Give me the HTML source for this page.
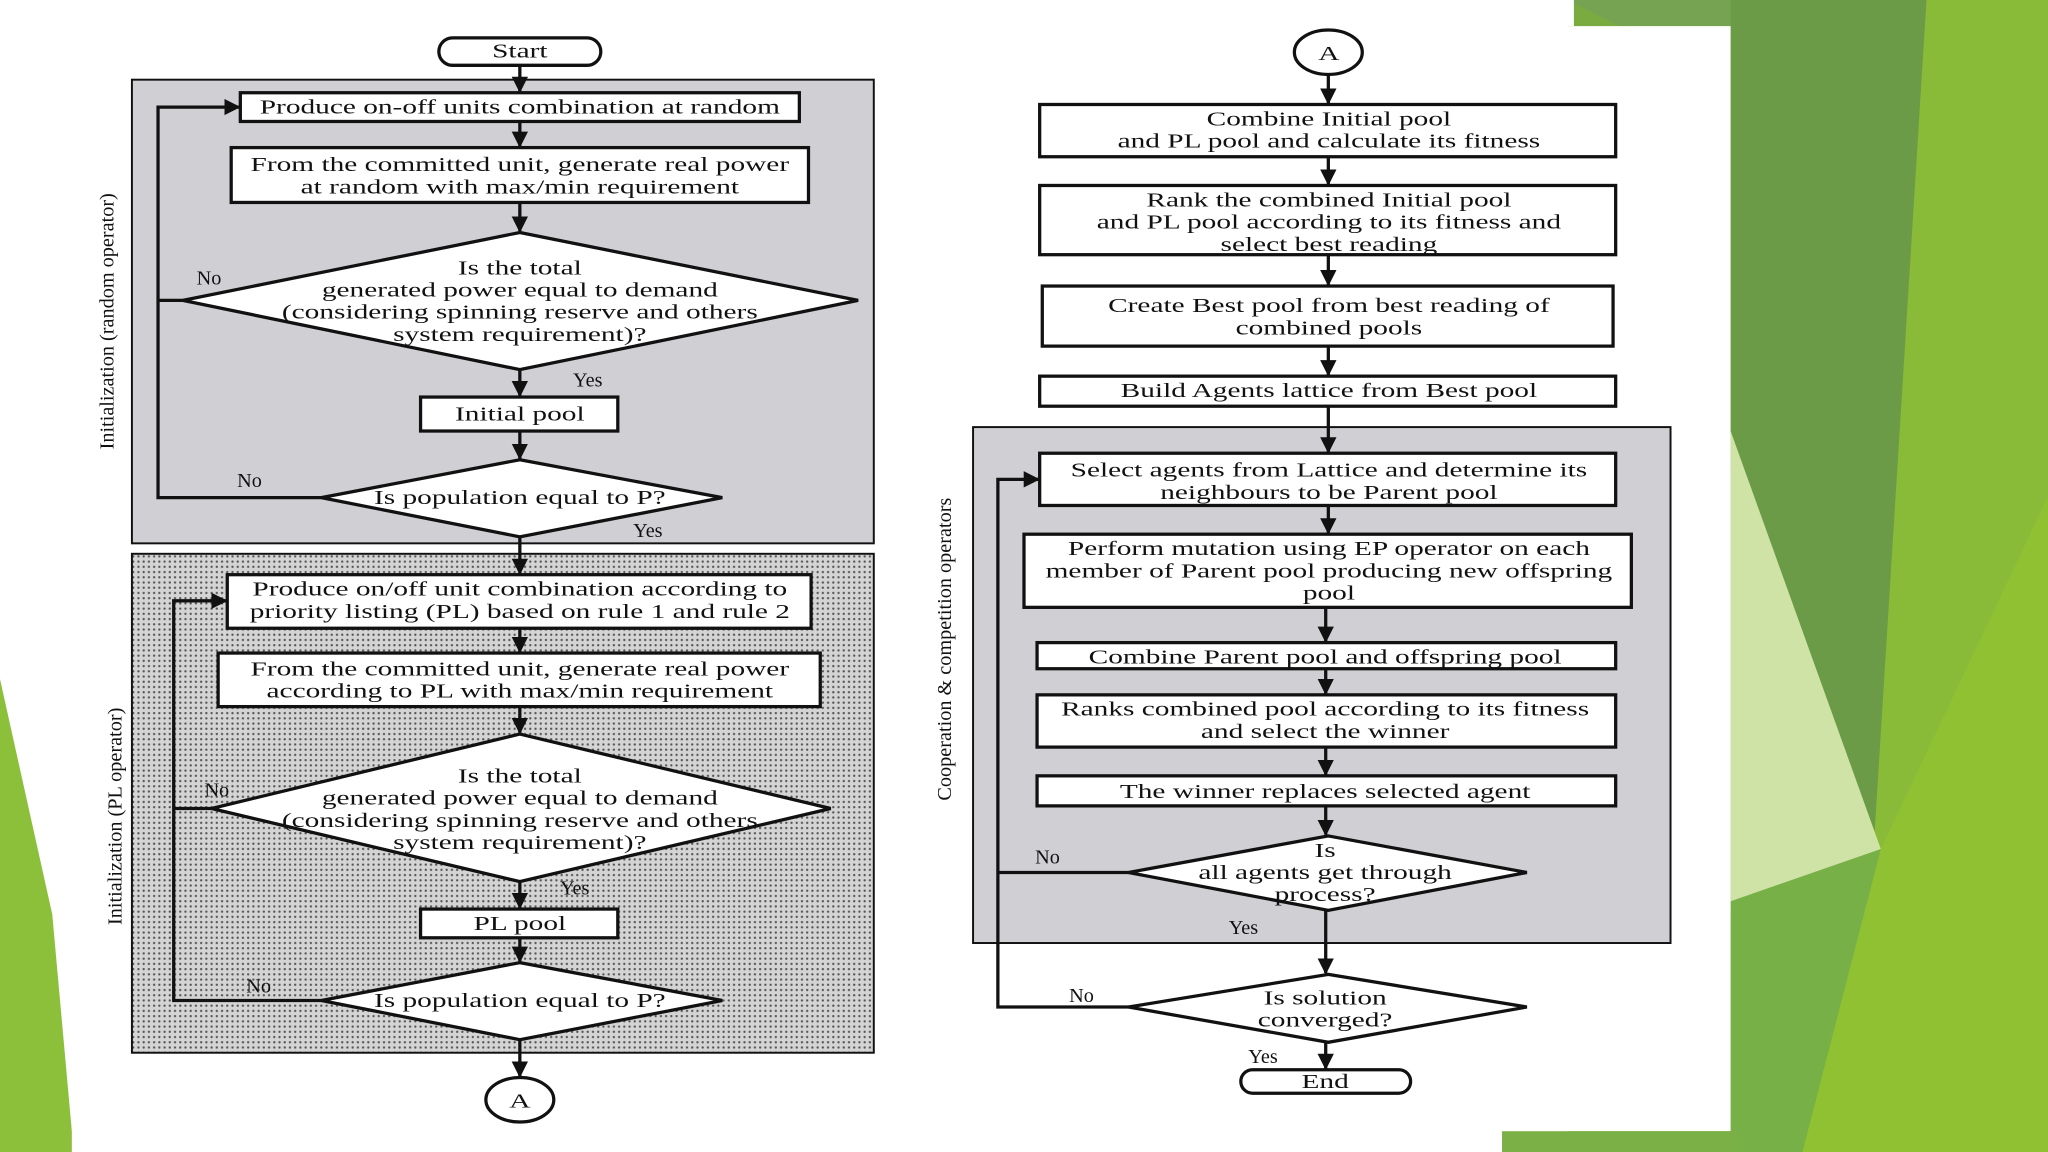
<!DOCTYPE html>
<html><head><meta charset="utf-8"><style>
html,body{margin:0;padding:0;background:#fff;}
svg{display:block}
text{font-family:"Liberation Serif",serif;font-size:15.5px;fill:#111;}
</style></head><body>
<svg width="2048" height="1152" viewBox="0 0 1568 882" preserveAspectRatio="none" xmlns="http://www.w3.org/2000/svg">
<defs>
<pattern id="dots" width="4" height="4" patternUnits="userSpaceOnUse">
<rect width="4" height="4" fill="#d4d4d4"/><circle cx="2" cy="2" r="0.9" fill="#555"/>
</pattern>
<marker id="ar" viewBox="0 0 10 10" refX="9" refY="5" markerWidth="5" markerHeight="5" orient="auto"><path d="M0,0L10,5L0,10z" fill="#111"/></marker>
</defs>
<rect width="1568" height="882" fill="#fff"/>
<rect x="1200" y="0" width="368" height="882" fill="#7aab40"/>
<polygon points="1200,0 1330,0 1330,20 1240,20" fill="#76a352"/>
<polygon points="1325,0 1475,0 1440,650 1325,520" fill="#6b9b46"/>
<polygon points="1475,0 1568,0 1568,882 1420,882" fill="#8abb38"/>
<polygon points="1325,330 1440,650 1325,700" fill="#cfe3a6"/>
<polygon points="1440,650 1568,380 1568,882 1330,882" fill="#8fc132"/>
<polygon points="1325,690 1440,650 1380,882 1325,882" fill="#78b048"/>
<polygon points="1150,866 1330,866 1330,882 1150,882" fill="#7ab046"/>
<polygon points="0,520 40,700 55,866 55,882 0,882" fill="#8cc03a"/>
<rect x="55" y="20" width="1270" height="846" fill="#fff"/>
<rect x="55" y="0" width="1150" height="20" fill="#fff"/>

<g stroke="#111" stroke-width="2.5" fill="none">
<rect x="101" y="61" width="568" height="355" fill="#d0d0d4" stroke-width="1.5"/>
<rect x="101" y="424" width="568" height="382" fill="url(#dots)" stroke-width="1.5"/>
<rect x="745" y="327" width="534" height="395" fill="#d0d0d4" stroke-width="1.5"/>

<rect x="336" y="29" width="124" height="21" rx="10.5" fill="#fff"/>
<rect x="184" y="71" width="428" height="22" fill="#fff"/>
<rect x="177" y="113" width="442" height="42" fill="#fff"/>
<polygon points="398,178 657,230 398,283 140,230" fill="#fff"/>
<rect x="322" y="304" width="151" height="26" fill="#fff"/>
<polygon points="398,352 553,381 398,411 246,381" fill="#fff"/>
<rect x="174" y="440" width="447" height="41" fill="#fff"/>
<rect x="167" y="500" width="461" height="41" fill="#fff"/>
<polygon points="398,562 636,619 398,675 162,619" fill="#fff"/>
<rect x="322" y="696" width="151" height="22" fill="#fff"/>
<polygon points="398,737 553,766 398,796 246,766" fill="#fff"/>
<ellipse cx="398" cy="842" rx="26" ry="17" fill="#fff"/>

<line x1="398" y1="50" x2="398" y2="70" marker-end="url(#ar)"/>
<line x1="398" y1="93" x2="398" y2="112" marker-end="url(#ar)"/>
<line x1="398" y1="155" x2="398" y2="177" marker-end="url(#ar)"/>
<line x1="398" y1="283" x2="398" y2="303" marker-end="url(#ar)"/>
<line x1="398" y1="330" x2="398" y2="351" marker-end="url(#ar)"/>
<line x1="398" y1="411" x2="398" y2="439" marker-end="url(#ar)"/>
<line x1="398" y1="481" x2="398" y2="499" marker-end="url(#ar)"/>
<line x1="398" y1="541" x2="398" y2="561" marker-end="url(#ar)"/>
<line x1="398" y1="675" x2="398" y2="695" marker-end="url(#ar)"/>
<line x1="398" y1="718" x2="398" y2="736" marker-end="url(#ar)"/>
<line x1="398" y1="796" x2="398" y2="824" marker-end="url(#ar)"/>
<polyline points="246,381 121,381 121,82 183,82" marker-end="url(#ar)"/>
<line x1="140" y1="230" x2="121" y2="230"/>
<polyline points="246,766 133,766 133,460 173,460" marker-end="url(#ar)"/>
<line x1="162" y1="619" x2="133" y2="619"/>

<ellipse cx="1017" cy="40" rx="26" ry="17" fill="#fff"/>
<rect x="796" y="80" width="441" height="40" fill="#fff"/>
<rect x="796" y="142" width="441" height="53" fill="#fff"/>
<rect x="798" y="219" width="437" height="46" fill="#fff"/>
<rect x="796" y="288" width="441" height="23" fill="#fff"/>
<rect x="796" y="347" width="441" height="40" fill="#fff"/>
<rect x="784" y="409" width="465" height="56" fill="#fff"/>
<rect x="794" y="492" width="443" height="20" fill="#fff"/>
<rect x="794" y="532" width="443" height="40" fill="#fff"/>
<rect x="794" y="594" width="443" height="23" fill="#fff"/>
<polygon points="1017,640 1169,668 1017,697 864,668" fill="#fff"/>
<polygon points="1017,746 1169,771 1017,798 864,771" fill="#fff"/>
<rect x="950" y="819" width="130" height="18" rx="9" fill="#fff"/>

<line x1="1017" y1="57" x2="1017" y2="79" marker-end="url(#ar)"/>
<line x1="1017" y1="120" x2="1017" y2="141" marker-end="url(#ar)"/>
<line x1="1017" y1="195" x2="1017" y2="218" marker-end="url(#ar)"/>
<line x1="1017" y1="265" x2="1017" y2="287" marker-end="url(#ar)"/>
<line x1="1017" y1="311" x2="1017" y2="346" marker-end="url(#ar)"/>
<line x1="1017" y1="387" x2="1017" y2="408" marker-end="url(#ar)"/>
<line x1="1015" y1="465" x2="1015" y2="491" marker-end="url(#ar)"/>
<line x1="1015" y1="512" x2="1015" y2="531" marker-end="url(#ar)"/>
<line x1="1015" y1="572" x2="1015" y2="593" marker-end="url(#ar)"/>
<line x1="1015" y1="617" x2="1015" y2="639" marker-end="url(#ar)"/>
<line x1="1015" y1="697" x2="1015" y2="745" marker-end="url(#ar)"/>
<line x1="1015" y1="798" x2="1015" y2="818" marker-end="url(#ar)"/>
<polyline points="864,771 764,771 764,367 795,367" marker-end="url(#ar)"/>
<line x1="864" y1="668" x2="764" y2="668"/>
</g>

<g text-anchor="middle" transform="translate(398,0) scale(1.45,1) translate(-398,0)">
<text x="398" y="44">Start</text>
<text x="398" y="87">Produce on-off units combination at random</text>
<text x="398" y="131">From the committed unit, generate real power</text>
<text x="398" y="148">at random with max/min requirement</text>
<text x="398" y="210">Is the total</text>
<text x="398" y="227">generated power equal to demand</text>
<text x="398" y="244">(considering spinning reserve and others</text>
<text x="398" y="261">system requirement)?</text>
<text x="398" y="322">Initial pool</text>
<text x="398" y="386">Is population equal to P?</text>
<text x="398" y="456">Produce on/off unit combination according to</text>
<text x="398" y="473">priority listing (PL) based on rule 1 and rule 2</text>
<text x="398" y="517">From the committed unit, generate real power</text>
<text x="398" y="534">according to PL with max/min requirement</text>
<text x="398" y="599">Is the total</text>
<text x="398" y="616">generated power equal to demand</text>
<text x="398" y="633">(considering spinning reserve and others</text>
<text x="398" y="650">system requirement)?</text>
<text x="398" y="712">PL pool</text>
<text x="398" y="771">Is population equal to P?</text>
<text x="398" y="848">A</text>
</g>
<g text-anchor="middle" transform="translate(1016,0) scale(1.45,1) translate(-1016,0)">
<text x="1017" y="46">A</text>
<text x="1017" y="96">Combine Initial pool</text>
<text x="1017" y="113">and PL pool and calculate its fitness</text>
<text x="1017" y="158">Rank the combined Initial pool</text>
<text x="1017" y="175">and PL pool according to its fitness and</text>
<text x="1017" y="192">select best reading</text>
<text x="1017" y="239">Create Best pool from best reading of</text>
<text x="1017" y="256">combined pools</text>
<text x="1017" y="304">Build Agents lattice from Best pool</text>
<text x="1017" y="365">Select agents from Lattice and determine its</text>
<text x="1017" y="382">neighbours to be Parent pool</text>
<text x="1017" y="425">Perform mutation using EP operator on each</text>
<text x="1017" y="442">member of Parent pool producing new offspring</text>
<text x="1017" y="459">pool</text>
<text x="1015" y="508">Combine Parent pool and offspring pool</text>
<text x="1015" y="548">Ranks combined pool according to its fitness</text>
<text x="1015" y="565">and select the winner</text>
<text x="1015" y="611">The winner replaces selected agent</text>
<text x="1015" y="656">Is</text>
<text x="1015" y="673">all agents get through</text>
<text x="1015" y="690">process?</text>
<text x="1015" y="769">Is solution</text>
<text x="1015" y="786">converged?</text>
<text x="1015" y="833">End</text>
</g>
<g text-anchor="middle">
<text x="160" y="218">No</text>
<text x="450" y="296">Yes</text>
<text x="191" y="373">No</text>
<text x="496" y="411">Yes</text>
<text x="166" y="610">No</text>
<text x="440" y="685">Yes</text>
<text x="198" y="760">No</text>
<text x="802" y="661">No</text>
<text x="952" y="715">Yes</text>
<text x="828" y="767">No</text>
<text x="967" y="814">Yes</text>
<text transform="translate(87,246) rotate(-90)">Initialization (random operator)</text>
<text transform="translate(93,625) rotate(-90)">Initialization (PL operator)</text>
<text transform="translate(728,497) rotate(-90)">Cooperation &amp; competition operators</text>
</g>
</svg>
</body></html>
